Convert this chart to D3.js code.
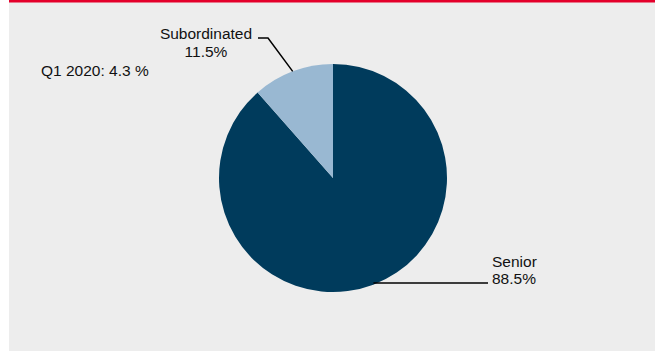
<!DOCTYPE html>
<head>
    <meta charset="utf-8">
    <style>
        body { margin: 0; background: #fff; }
        text { font-family: "Liberation Sans", Arial, sans-serif; font-size: 15.5px; fill: #111; }
        .leader { fill: none; stroke: #000; stroke-width: 1.5px; }
    </style>
</head>

<body>
    <script src="https://d3js.org/d3.v7.min.js"></script>

    <script>
        var width = 657,
            height = 351;

        // data
        var categories = ["Senior", "Subordinated"];
        var shares = [88.5, 11.5];
        var colours = ["#003b5c", "#99b8d2"];
        var note = "Q1 2020: 4.3 %";

        var cx = 333, cy = 178, radius = 114;

        var svg = d3.select("body").append("svg")
            .attr("width", width)
            .attr("height", height);

        // panel background and red top rule
        svg.append("rect")
            .attr("x", 9).attr("y", 0)
            .attr("width", 646).attr("height", height)
            .attr("fill", "#ededed");
        svg.append("rect")
            .attr("x", 9).attr("y", 0)
            .attr("width", 646).attr("height", 2.5)
            .attr("fill", "#e4002b");

        var data = categories.map(function(c, i) { return {name: c, value: shares[i], colour: colours[i]}; });

        var pie = d3.pie().sort(null).value(function(d) { return d.value; });
        var arc = d3.arc().innerRadius(0).outerRadius(radius);

        var g = svg.append("g").attr("transform", "translate(" + cx + "," + cy + ")");

        var arcs = pie(data);
        g.selectAll("path")
            .data(arcs)
            .enter().append("path")
            .attr("d", arc)
            .attr("fill", function(d) { return d.data.colour; });

        // Senior label: lower right, leader starts on the pie edge
        var sy = 283;
        var sx = cx + Math.sqrt(radius * radius - (sy - cy) * (sy - cy)) - 4;
        svg.append("polyline")
            .attr("class", "leader")
            .attr("points", [[sx, sy], [488, sy]].join(" "));
        svg.append("text").attr("x", 492).attr("y", 267).text(data[0].name);
        svg.append("text").attr("x", 492).attr("y", 284).text(data[0].value.toFixed(1) + "%");

        // Subordinated label: upper left
        var bA = (arcs[1].startAngle + arcs[1].endAngle) / 2;
        var bp = [cx + radius * Math.sin(bA), cy - radius * Math.cos(bA)];
        svg.append("polyline")
            .attr("class", "leader")
            .attr("points", [[bp[0], bp[1]], [268, 38], [258, 38]].join(" "));
        svg.append("text").attr("x", 206).attr("y", 39).attr("text-anchor", "middle").text(data[1].name);
        svg.append("text").attr("x", 206).attr("y", 57).attr("text-anchor", "middle").text(data[1].value.toFixed(1) + "%");

        svg.append("text").attr("x", 41).attr("y", 76).text(note);
    </script>
</body>
